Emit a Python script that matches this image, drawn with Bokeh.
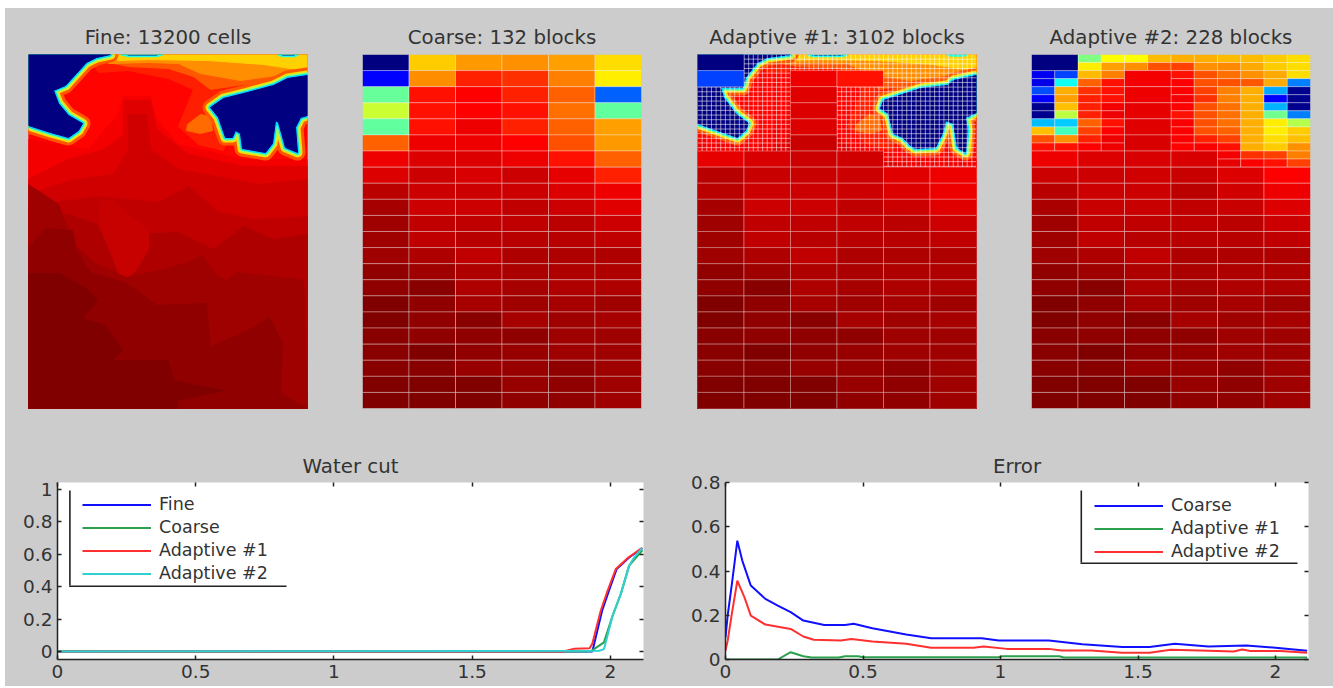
from bokeh.plotting import figure
from bokeh.layouts import column, row
from bokeh.models import (Range1d, Title, LinearAxis, FixedTicker, Legend, LegendItem, BoxAnnotation)
from bokeh.embed import file_html
from bokeh.resources import INLINE

GRAY = "#cccccc"
TEXT = "#333333"
FONT = "DejaVu Sans"

titles = ["Fine: 13200 cells", "Coarse: 132 blocks", "Adaptive #1: 3102 blocks", "Adaptive #2: 228 blocks"]

# Coarse model saturation (jet scale 0..1), 22 rows x 6 columns
coarse = [
    [0.000, 0.675, 0.725, 0.734, 0.718, 0.658],
    [0.125, 0.737, 0.844, 0.828, 0.750, 0.642],
    [0.475, 0.859, 0.875, 0.844, 0.781, 0.220],
    [0.575, 0.859, 0.875, 0.859, 0.765, 0.470],
    [0.470, 0.859, 0.892, 0.844, 0.781, 0.718],
    [0.781, 0.892, 0.892, 0.875, 0.797, 0.725],
    [0.892, 0.908, 0.908, 0.892, 0.859, 0.781],
    [0.908, 0.925, 0.913, 0.925, 0.899, 0.844],
    [0.942, 0.925, 0.925, 0.925, 0.908, 0.892],
    [0.961, 0.925, 0.925, 0.937, 0.925, 0.905],
    [0.969, 0.937, 0.937, 0.937, 0.942, 0.925],
    [0.969, 0.937, 0.945, 0.945, 0.945, 0.937],
    [0.969, 0.953, 0.937, 0.953, 0.953, 0.953],
    [0.984, 0.969, 0.953, 0.957, 0.953, 0.953],
    [0.984, 0.992, 0.953, 0.961, 0.953, 0.953],
    [1.000, 0.984, 0.961, 0.969, 0.961, 0.969],
    [1.000, 0.984, 0.992, 0.961, 0.969, 0.961],
    [0.992, 0.984, 0.984, 0.984, 0.969, 0.969],
    [0.992, 1.000, 0.984, 0.976, 0.969, 0.969],
    [0.992, 0.992, 0.976, 0.976, 0.984, 0.969],
    [1.000, 1.000, 1.000, 0.976, 0.984, 0.969],
    [1.000, 1.000, 1.000, 0.984, 0.984, 0.969],
]

# Adaptive #1 coarse blocks kept above row 7: (column, row, value)
a1_kept = [
    (0, 0, 0.000), (0, 1, 0.190), (2, 1, 0.892), (3, 1, 0.859),
    (2, 2, 0.905), (2, 3, 0.908), (2, 4, 0.908), (2, 5, 0.929),
    (0, 6, 0.899), (1, 6, 0.913), (2, 6, 0.925), (3, 6, 0.921),
]
a1_row7 = [0.945, 0.929, 0.929, 0.925, 0.905, 0.892]

# Adaptive #2: half-column by half-row values for top 12 half rows; None = part of a merged block
a2_top = [
    [None, None, 0.500, 0.625, 0.625, 0.692, 0.703, 0.703, 0.692, 0.692, 0.675, 0.658],
    [None, None, 0.642, 0.718, 0.734, 0.797, 0.812, 0.734, 0.740, 0.708, 0.675, 0.658],
    [0.110, 0.190, 0.692, 0.750, None, None, 0.859, 0.797, 0.765, 0.734, 0.708, 0.658],
    [0.100, 0.390, 0.781, 0.859, None, None, 0.875, 0.797, 0.797, 0.790, 0.708, 0.250],
    [0.200, 0.703, 0.828, 0.859, None, None, 0.875, 0.812, 0.750, 0.703, 0.290, 0.015],
    [0.125, 0.718, 0.844, 0.859, None, None, 0.885, 0.828, 0.750, 0.703, 0.125, 0.015],
    [0.015, 0.687, 0.844, 0.885, None, None, 0.875, 0.797, 0.765, 0.703, 0.300, 0.015],
    [0.015, 0.560, 0.844, 0.892, None, None, 0.859, 0.797, 0.765, 0.703, 0.485, 0.250],
    [0.310, 0.325, 0.781, 0.859, None, None, 0.880, 0.797, 0.765, 0.703, 0.642, 0.550],
    [0.687, 0.440, 0.812, 0.875, None, None, 0.875, 0.797, 0.781, 0.703, 0.642, 0.675],
    [0.797, 0.734, 0.844, 0.892, None, None, 0.880, 0.844, 0.812, 0.703, 0.658, 0.687],
    [0.859, 0.859, 0.875, 0.892, None, None, 0.875, 0.880, 0.859, 0.703, 0.675, 0.734],
]
a2_nw = 0.000
a2_mid = [0.885, 0.892, 0.899, 0.905, 0.913]          # column 2, rows 1-5
a2_row6_left = [0.892, 0.908, 0.913, 0.913]            # full blocks, columns 0-3
a2_row6_right = [[0.885, 0.828, 0.812, 0.750], [0.899, 0.880, 0.859, 0.812]]
a2_rows = [
    [0.925, 0.925, 0.921, 0.929, 0.908, 0.875],
    [0.945, 0.925, 0.925, 0.942, 0.921, 0.892],
    [0.957, 0.929, 0.929, 0.937, 0.929, 0.908],
]

# Fine field: depth contours (value, x list, y list), field units
levels = [
    (0.872, [0, 279, 279, 0], [0, 0, 354, 354]),
    (0.845, [60, 150, 279, 279, 250, 215, 195, 190, 200, 195, 170, 150, 165, 140, 100, 70],
            [5, 6, 3, 26, 30, 34, 42, 60, 80, 96, 90, 72, 35, 24, 16, 18]),
    (0.790, [70, 150, 279, 279, 250, 215, 182, 165, 140, 100], [6, 6, 3, 24, 26, 30, 35, 22, 14, 12]),
    (0.735, [82, 160, 200, 279, 279, 255, 212, 172, 150, 120, 80], [3, 3, 6, 3, 18, 20, 26, 19, 9, 8, 9]),
    (0.670, [80, 279, 279, 262, 235, 180, 120, 90], [0, 0, 16, 14, 10, 6, 5, 6]),
    (0.770, [159, 172, 182, 184, 172, 158], [70, 60, 62, 76, 79, 76]),
    (0.885, [0, 40, 60, 72, 90, 95, 122, 128, 150, 215, 279, 279, 0], [85, 92, 95, 80, 60, 42, 42, 65, 90, 105, 105, 354, 354]),
    (0.905, [0, 40, 75, 95, 95, 122, 128, 160, 215, 279, 279, 0], [125, 105, 95, 80, 46, 46, 75, 100, 112, 112, 354, 354]),
    (0.921, [0, 45, 85, 100, 100, 118, 122, 150, 230, 279, 279, 0], [140, 125, 120, 95, 60, 60, 95, 115, 130, 125, 354, 354]),
    (0.937, [0, 70, 130, 160, 190, 225, 279, 279, 0], [152, 142, 148, 132, 158, 165, 162, 354, 354]),
    (0.953, [0, 40, 98, 150, 185, 215, 245, 279, 279, 0], [165, 160, 180, 178, 195, 172, 185, 180, 354, 354]),
    (0.930, [72, 85, 100, 120, 120, 108, 98, 93, 83, 70], [146, 146, 160, 175, 195, 215, 225, 225, 200, 170]),
    (0.969, [0, 30, 45, 67, 98, 132, 157, 174, 187, 199, 208, 262, 275, 279, 279, 0],
            [130, 150, 190, 209, 223, 216, 209, 201, 221, 226, 218, 224, 226, 354, 354, 354]),
    (0.984, [0, 18, 44, 48, 62, 98, 115, 128, 178, 182, 225, 241, 254, 252, 279, 0],
            [193, 174, 176, 196, 218, 229, 241, 251, 249, 293, 273, 263, 289, 339, 354, 354]),
    (1.000, [0, 31, 60, 69, 54, 77, 94, 84, 140, 145, 195, 149, 149, 0],
            [219, 219, 236, 246, 264, 271, 296, 306, 306, 326, 336, 346, 354, 354]),
]

# Water-filled pockets (value 0), each with a coloured rim
fine_pockets = [
    ([0, 82, 68, 58, 48, 37, 25, 30, 40, 54, 50, 40, 22, 0],
     [0, 0, 3, 8, 19, 31, 36, 49, 61, 69, 76, 83, 78, 71]),
    ([279, 259, 245, 219, 195, 182, 190, 197, 204, 207, 212, 214, 237, 244, 247, 250, 257, 269, 267, 272, 279],
     [21, 24, 31, 38, 44, 53, 63, 83, 83, 76, 79, 94, 98, 89, 66, 68, 93, 98, 73, 63, 61]),
]
fine_slivers = [
    ([92, 135, 128, 100], [0, 0, 2, 2]),
    ([249, 270, 266, 254], [0, 0, 2, 2]),
]
a1_pockets = [
    ([0, 45, 93, 70, 60, 48, 45, 23, 26, 38, 51, 48, 40, 20, 0],
     [0, 0, 0, 3, 8, 23, 33, 33, 43, 59, 69, 76, 83, 76, 69]),
    ([279, 256, 250, 223, 186, 183, 191, 196, 205, 213, 218, 238, 245, 248, 256, 260, 268, 270, 268, 279],
     [21, 26, 31, 34, 46, 54, 59, 79, 83, 91, 94, 93, 79, 66, 69, 93, 98, 76, 63, 58]),
]
a1_slivers = [
    ([110, 150, 145, 115], [0, 0, 2, 2]),
    ([249, 270, 266, 254], [0, 0, 1.5, 1.5]),
]
rim_values = [0.790, 0.660, 0.520, 0.340]
rim_widths = [16, 10, 7, 4]
sliver_rim = 0.400

# Line charts
wc_x_ticks = [0, 0.5, 1, 1.5, 2]
wc_y_ticks = [0, 0.2, 0.4, 0.6, 0.8, 1]
err_y_ticks = [0, 0.2, 0.4, 0.6, 0.8]

wc_fine_x = [0, 1.935, 1.97, 1.995, 2.023, 2.068, 2.116]
wc_fine_y = [0, 0, 0.25, 0.375, 0.51, 0.58, 0.638]
wc_coarse_x = [0, 1.91, 1.93, 1.977, 2.008, 2.038, 2.068, 2.116]
wc_coarse_y = [0, 0, 0.003, 0.057, 0.22, 0.356, 0.53, 0.625]
wc_a1_x = [0, 1.83, 1.87, 1.925, 1.935, 1.965, 1.99, 2.02, 2.065, 2.116]
wc_a1_y = [0, 0, 0.018, 0.02, 0.05, 0.25, 0.375, 0.51, 0.58, 0.64]
wc_a2_x = [0, 1.96, 1.977, 2.008, 2.038, 2.068, 2.086, 2.116]
wc_a2_y = [0, 0.005, 0.015, 0.22, 0.356, 0.53, 0.58, 0.64]

err_c_x = [0, 0.008, 0.023, 0.043, 0.061, 0.092, 0.145, 0.19, 0.237, 0.283, 0.359, 0.435, 0.466, 0.534, 0.657, 0.748, 0.932, 0.993, 1.176, 1.298, 1.443, 1.542, 1.634, 1.756, 1.894, 2.0, 2.115]
err_c_y = [0.1, 0.2, 0.34, 0.537, 0.447, 0.334, 0.274, 0.244, 0.214, 0.176, 0.156, 0.156, 0.162, 0.141, 0.113, 0.096, 0.096, 0.086, 0.086, 0.069, 0.056, 0.056, 0.071, 0.059, 0.063, 0.053, 0.04]
err_a1_x = [0, 0.19, 0.237, 0.283, 0.313, 0.412, 0.435, 0.481, 0.504, 0.993, 1.008, 1.214, 1.23, 2.115]
err_a1_y = [0, 0, 0.033, 0.015, 0.009, 0.009, 0.015, 0.015, 0.01, 0.01, 0.015, 0.015, 0.009, 0.009]
err_a2_x = [0, 0.008, 0.023, 0.043, 0.069, 0.092, 0.145, 0.237, 0.283, 0.321, 0.42, 0.458, 0.534, 0.657, 0.748, 0.901, 0.939, 1.023, 1.176, 1.222, 1.329, 1.443, 1.542, 1.619, 1.726, 1.848, 1.879, 1.909, 2.016, 2.115]
err_a2_y = [0.04, 0.086, 0.206, 0.356, 0.281, 0.198, 0.158, 0.138, 0.104, 0.089, 0.086, 0.093, 0.081, 0.071, 0.053, 0.053, 0.059, 0.048, 0.048, 0.041, 0.041, 0.03, 0.03, 0.044, 0.041, 0.036, 0.045, 0.038, 0.038, 0.03]

BLUE, GREEN, RED, CYAN = "#1010ff", "#2ca04c", "#ff3030", "#30d0d0"


def jet(v):
    def c(x):
        return int(round(255 * max(0.0, min(1.0, x))))
    r = 1.5 - abs(4 * v - 3)
    g = 1.5 - abs(4 * v - 2)
    b = 1.5 - abs(4 * v - 1)
    return "#%02x%02x%02x" % (c(r), c(g), c(b))


BW, BH = 279 / 6, 354 / 22


def panel(text, border):
    left, right = border
    p = figure(width=left + 279 + right, height=46 + 354 + 37, x_range=Range1d(0, 279), y_range=Range1d(354, 0),
               output_backend="svg", toolbar_location=None, min_border_left=left, min_border_right=right,
               min_border_top=46, min_border_bottom=37, background_fill_color=GRAY, border_fill_color=GRAY,
               outline_line_color="#aaaaaa", outline_line_alpha=0.5)
    p.axis.visible = False
    p.grid.visible = False
    p.add_layout(Title(text=text, align="center", text_font=FONT, text_font_size="19.8px",
                       text_font_style="normal", text_color=TEXT, standoff=11), "above")
    return p


def draw_field(p, pockets, slivers):
    for v, xs, ys in levels:
        p.patch(xs, ys, fill_color=jet(v), line_color=jet(v), line_width=1)
    for xs, ys in pockets:
        for rv, rw in zip(rim_values, rim_widths):
            p.patch(xs, ys, fill_color=jet(rv), line_color=jet(rv), line_width=rw, line_join="round")
    for xs, ys in pockets:
        p.patch(xs, ys, fill_color=jet(0.0), line_color=jet(0.0), line_width=1)
    for xs, ys in slivers:
        p.patch(xs, ys, fill_color=jet(0.05), line_color=jet(sliver_rim), line_width=1.5)


def draw_blocks(p, left, right, top, bottom, vals, alpha=0.32):
    p.quad(left=left, right=right, top=top, bottom=bottom, fill_color=[jet(v) for v in vals],
           line_color="white", line_alpha=alpha, line_width=1)


# Panel 1
p1 = panel(titles[0], (23, 28))
draw_field(p1, fine_pockets, fine_slivers)

# Panel 2
p2 = panel(titles[1], (27, 28))
L, R, T, B, V = [], [], [], [], []
for j, line in enumerate(coarse):
    for i, v in enumerate(line):
        L.append(i * BW); R.append((i + 1) * BW); T.append(j * BH); B.append((j + 1) * BH); V.append(v)
draw_blocks(p2, L, R, T, B, V)

# Panel 3
p3 = panel(titles[2], (28, 27))
draw_field(p3, a1_pockets, a1_slivers)
kept = {(c, r): v for c, r, v in a1_kept}
for i, v in enumerate(a1_row7):
    kept[(i, 7)] = v
for j in range(8, 22):
    for i in range(6):
        kept[(i, j)] = coarse[j][i]
gx, gy = [], []
for j in range(22):
    for i in range(6):
        if (i, j) in kept:
            continue
        for k in range(0, 10):
            x = (i + k / 10) * BW
            gx.append([x, x]); gy.append([j * BH, (j + 1) * BH])
hstep = 354 / 76
for m in range(77):
    y = m * hstep
    j = min(int(y / BH), 21)
    for i in range(6):
        if (i, j) not in kept:
            gx.append([i * BW, (i + 1) * BW]); gy.append([y, y])
p3.multi_line(gx, gy, line_color="white", line_alpha=0.55, line_width=1)
L, R, T, B, V = [], [], [], [], []
for (i, j), v in kept.items():
    L.append(i * BW); R.append((i + 1) * BW); T.append(j * BH); B.append((j + 1) * BH); V.append(v)
draw_blocks(p3, L, R, T, B, V)

# Panel 4
p4 = panel(titles[3], (28, 23))
L, R, T, B, V = [], [], [], [], []


def add(l, r, t, b, v):
    L.append(l); R.append(r); T.append(t); B.append(b); V.append(v)


for j, line in enumerate(a2_top):
    for i, v in enumerate(line):
        if v is not None:
            add(i * BW / 2, (i + 1) * BW / 2, j * BH / 2, (j + 1) * BH / 2, v)
add(0, BW, 0, BH, a2_nw)
for n, v in enumerate(a2_mid):
    add(2 * BW, 3 * BW, (n + 1) * BH, (n + 2) * BH, v)
for i, v in enumerate(a2_row6_left):
    add(i * BW, (i + 1) * BW, 6 * BH, 7 * BH, v)
for m, line in enumerate(a2_row6_right):
    for i, v in enumerate(line):
        add((8 + i) * BW / 2, (9 + i) * BW / 2, (12 + m) * BH / 2, (13 + m) * BH / 2, v)
for n, line in enumerate(a2_rows):
    for i, v in enumerate(line):
        add(i * BW, (i + 1) * BW, (7 + n) * BH, (8 + n) * BH, v)
for j in range(10, 22):
    for i, v in enumerate(coarse[j]):
        add(i * BW, (i + 1) * BW, j * BH, (j + 1) * BH, v)
draw_blocks(p4, L, R, T, B, V)


def chart(text, width, frame_w, left, right, yr, yticks, legend_x, legend_b, series, lx, ltop, lbot, lright):
    p = figure(width=width, height=241, x_range=Range1d(0, 2.12), y_range=Range1d(*yr), frame_width=frame_w, frame_height=177,
               output_backend="svg", toolbar_location=None, min_border_left=left, min_border_right=right,
               min_border_top=37, min_border_bottom=27, background_fill_color="white", border_fill_color=GRAY,
               outline_line_alpha=0)
    p.grid.visible = False
    top_axis, right_axis = LinearAxis(), LinearAxis()
    p.add_layout(top_axis, "above")
    p.add_layout(right_axis, "right")
    p.add_layout(Title(text=text, align="center", text_font=FONT, text_font_size="19.8px",
                       text_font_style="normal", text_color=TEXT, standoff=9), "above")
    for ax, ticks in ((p.xaxis, wc_x_ticks), (p.yaxis, yticks)):
        for a in ax:
            a.ticker = FixedTicker(ticks=ticks)
            a.major_label_overrides = {t: ("%g" % t) for t in ticks}
            a.minor_tick_line_color = None
            a.major_tick_in = 4
            a.major_tick_out = 0
            a.major_tick_line_color = "#222222"
            a.major_tick_line_width = 1.5
            a.axis_line_color = "#222222"
            a.axis_line_width = 1.5
            a.major_label_text_font = FONT
            a.major_label_text_font_size = "18.5px"
            a.major_label_text_color = TEXT
            a.major_label_standoff = 5
    for a in (top_axis, right_axis):
        a.axis_line_color = None
        a.major_label_text_color = None
        a.major_label_text_font_size = "1px"
        a.major_label_standoff = 0
    items = []
    for label, xs, ys, col, show in series:
        r = p.line(xs, ys, line_color=col, line_width=2)
        if show:
            items.append(LegendItem(label=label, renderers=[r]))
    leg = Legend(items=items, location=(legend_x, legend_b), padding=0, margin=0, spacing=0, glyph_width=69,
                 glyph_height=23, label_height=23, label_standoff=8, border_line_color=None, background_fill_alpha=0,
                 label_text_font=FONT, label_text_font_size="17.5px", label_text_color=TEXT)
    p.add_layout(leg)
    for kw in (dict(left=lx, right=lx + 1.6, top=ltop, bottom=lbot), dict(left=lx, right=lright, top=lbot, bottom=lbot - 1.6)):
        p.add_layout(BoxAnnotation(left_units="screen", right_units="screen", top_units="screen", bottom_units="screen",
                                   fill_color="#222222", fill_alpha=1, line_color=None, level="overlay", **kw))
    return p


p5 = chart("Water cut", 664, 586, 52, 26, (-0.049, 1.043), wc_y_ticks, 25, 74.5, [
    ("Fine", wc_fine_x, wc_fine_y, BLUE, True),
    ("Coarse", wc_coarse_x, wc_coarse_y, GREEN, True),
    ("Adaptive #1", wc_a1_x, wc_a1_y, RED, True),
    ("Adaptive #2", wc_a2_x, wc_a2_y, CYAN, True),
], 11.6, 169, 74, 229)

p6 = chart("Error", 664, 583, 56, 25, (0, 0.8), err_y_ticks, 369, 96.5, [
    ("Coarse", err_c_x, err_c_y, BLUE, True),
    ("Adaptive #1", err_a1_x, err_a1_y, GREEN, True),
    ("Adaptive #2", err_a2_x, err_a2_y, RED, True),
], 355, 169, 97, 572)

bg = {"background-color": GRAY}
top = row(p1, p2, p3, p4, spacing=0, styles=bg)
bottom = row(p5, p6, spacing=0, styles=bg)
root = column(top, bottom, spacing=0, margin=(8, 0, 0, 5), styles=bg)

open("out.html", "w").write(file_html(root, INLINE))
